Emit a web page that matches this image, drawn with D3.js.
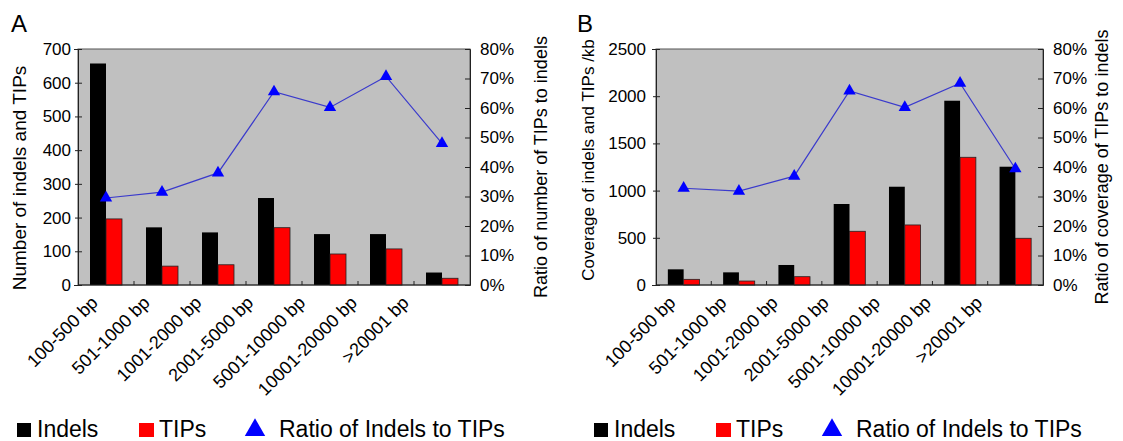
<!DOCTYPE html>
<html>
<head>
<meta charset="utf-8">
<script src="https://cdn.jsdelivr.net/npm/d3@7"></script>
<style>
  body { margin: 0; background: #fff; }
  svg text { font-family: "Liberation Sans", Arial, sans-serif; fill: #000; }
</style>
</head>
<body>
<script>
// size classes shared by both panels
var categories = ["100-500 bp", "501-1000 bp", "1001-2000 bp", "2001-5000 bp",
                  "5001-10000 bp", "10001-20000 bp", ">20001 bp"];

// panel A: counts
var indelsCountA = [657, 171, 156, 258, 151, 151, 37];
var tipsCountA   = [196, 56, 60, 170, 92, 107, 20];
var ratioA       = [0.295, 0.315, 0.38, 0.655, 0.602, 0.707, 0.48];
var leftTicksA   = [0, 100, 200, 300, 400, 500, 600, 700];

// panel B: coverage /kb
var indelsCovB = [166, 134, 212, 858, 1041, 1952, 1253];
var tipsCovB   = [60, 42, 88, 569, 636, 1353, 495];
var ratioB     = [0.328, 0.318, 0.369, 0.658, 0.602, 0.684, 0.394];
var leftTicksB = [0, 500, 1000, 1500, 2000, 2500];

var ratioTicks = [0, 0.1, 0.2, 0.3, 0.4, 0.5, 0.6, 0.7, 0.8];

var W = 1123, H = 441;
var svg = d3.select("body").append("svg")
    .attr("width", W)
    .attr("height", H);

svg.append("rect").attr("width", W).attr("height", H).attr("fill", "#fff");

function panel(opt) {
  var g = svg.append("g");
  var x0 = opt.left, x1 = opt.right, yTop = 49, yBot = 285;

  var x = d3.scaleBand().domain(categories).range([x0, x1]);
  var bw = x.bandwidth();
  var sub = d3.scaleBand().domain(["indels", "tips"])
      .range([0, bw]).paddingOuter(0.75).paddingInner(0);
  var y = d3.scaleLinear().domain([0, opt.max]).range([yBot, yTop]);
  var yr = d3.scaleLinear().domain([0, 0.8]).range([yBot, yTop]);
  // rotated labels sit a little tighter than the bars (as in the original)
  var xl = d3.scalePoint().domain(categories)
      .range([x0 + bw / 2 - 9, x1 - bw / 2 - 34]);

  // plot background + frame
  g.append("rect")
    .attr("x", x0).attr("y", yTop)
    .attr("width", x1 - x0).attr("height", yBot - yTop)
    .attr("fill", "#c0c0c0")
    .attr("stroke", "#555").attr("stroke-width", 1);

  // bars
  var rows = categories.map(function(c, i) {
    return {cat: c, indels: opt.indels[i], tips: opt.tips[i], ratio: opt.ratio[i]};
  });
  var grp = g.selectAll("g.grp").data(rows).enter().append("g")
    .attr("transform", function(d) { return "translate(" + x(d.cat) + ",0)"; });
  grp.append("rect")
    .attr("x", sub("indels")).attr("width", sub.bandwidth())
    .attr("y", function(d) { return y(d.indels); })
    .attr("height", function(d) { return yBot - y(d.indels); })
    .attr("fill", "#000");
  grp.append("rect")
    .attr("x", sub("tips")).attr("width", sub.bandwidth())
    .attr("y", function(d) { return y(d.tips); })
    .attr("height", function(d) { return yBot - y(d.tips); })
    .attr("fill", "#ff0000").attr("stroke", "#222").attr("stroke-width", 0.8);

  // category ticks (inside, at band boundaries)
  g.selectAll("line.ct").data(categories.slice(1)).enter().append("line")
    .attr("x1", function(d) { return x(d); }).attr("x2", function(d) { return x(d); })
    .attr("y1", yBot).attr("y2", yBot - 4)
    .attr("stroke", "#222");

  // left axis
  var la = g.append("g").attr("transform", "translate(" + x0 + ",0)")
    .call(d3.axisLeft(y).tickValues(opt.leftTicks).tickFormat(d3.format("d"))
      .tickSize(4).tickPadding(opt.leftPad));
  la.selectAll("text").style("font-size", "17px");
  la.select(".domain").attr("stroke", "#222");
  la.selectAll(".tick line").attr("x2", 4).attr("x1", -3).attr("stroke", "#222");

  // right axis
  var ra = g.append("g").attr("transform", "translate(" + x1 + ",0)")
    .call(d3.axisRight(yr).tickValues(ratioTicks).tickFormat(d3.format(".0%"))
      .tickSize(-5).tickPadding(10));
  ra.selectAll("text").style("font-size", "17px");
  ra.select(".domain").attr("stroke", "#222");
  ra.selectAll(".tick line").attr("stroke", "#222");

  // bottom baseline
  g.append("line").attr("x1", x0).attr("x2", x1).attr("y1", yBot).attr("y2", yBot)
    .attr("stroke", "#222");

  // ratio line + triangles
  var cx = function(d) { return x(d.cat) + bw / 2; };
  g.append("path").datum(rows)
    .attr("fill", "none").attr("stroke", "#3a3acc").attr("stroke-width", 1.2)
    .attr("d", d3.line().x(cx).y(function(d) { return yr(d.ratio); }));
  g.selectAll("path.tri").data(rows).enter().append("path")
    .attr("d", d3.symbol().type(d3.symbolTriangle).size(66))
    .attr("transform", function(d) { return "translate(" + cx(d) + "," + yr(d.ratio) + ")"; })
    .attr("fill", "#0000ff");

  // category labels rotated
  g.selectAll("text.cat").data(categories).enter().append("text")
    .attr("text-anchor", "end")
    .attr("transform", function(d) {
      return "translate(" + (xl(d) - 7) + "," + (yBot + 10) + ") rotate(-45)";
    })
    .attr("dy", "0.7em")
    .style("font-size", "18px")
    .text(function(d) { return d; });

  // axis titles
  g.append("text")
    .attr("transform", "translate(" + opt.leftTitleX + "," + opt.leftTitleY + ") rotate(-90)")
    .attr("text-anchor", "middle")
    .style("font-size", opt.leftTitleSize)
    .text(opt.leftTitle);
  g.append("text")
    .attr("transform", "translate(" + opt.rightTitleX + "," + 167 + ") rotate(-90)")
    .attr("text-anchor", "middle")
    .style("font-size", "18px")
    .text(opt.rightTitle);

  // panel letter
  g.append("text").attr("x", opt.letterX).attr("y", 32)
    .style("font-size", "24px").text(opt.letter);

  // legend
  var lg = g.append("g").attr("transform", "translate(" + opt.legendX + ",0)");
  lg.append("rect").attr("x", 0).attr("y", 423).attr("width", 14).attr("height", 14).attr("fill", "#000");
  lg.append("text").attr("x", 20).attr("y", 437).style("font-size", "23px").text("Indels");
  lg.append("rect").attr("x", 122).attr("y", 423).attr("width", 15).attr("height", 14).attr("fill", "#ff0000");
  lg.append("text").attr("x", 142).attr("y", 437).style("font-size", "23px").text("TIPs");
  lg.append("path").attr("d", d3.symbol().type(d3.symbolTriangle).size(180))
    .attr("transform", "translate(238,430)").attr("fill", "#0000ff");
  lg.append("text").attr("x", 262).attr("y", 437).style("font-size", "23px").text("Ratio of Indels to TIPs");
}

panel({
  left: 78, right: 470, max: 700, leftTicks: leftTicksA, leftPad: 3,
  indels: indelsCountA, tips: tipsCountA, ratio: ratioA,
  leftTitle: "Number of indels and TIPs", leftTitleX: 26, leftTitleY: 178, leftTitleSize: "19px",
  rightTitle: "Ratio of number of TIPs to indels", rightTitleX: 547,
  letter: "A", letterX: 11, legendX: 17
});

panel({
  left: 656, right: 1043, max: 2500, leftTicks: leftTicksB, leftPad: 6,
  indels: indelsCovB, tips: tipsCovB, ratio: ratioB,
  leftTitle: "Coverage of indels and TIPs /kb", leftTitleX: 594, leftTitleY: 160, leftTitleSize: "17px",
  rightTitle: "Ratio of coverage of TIPs to indels", rightTitleX: 1108,
  letter: "B", letterX: 577, legendX: 594
});
</script>
</body>
</html>
